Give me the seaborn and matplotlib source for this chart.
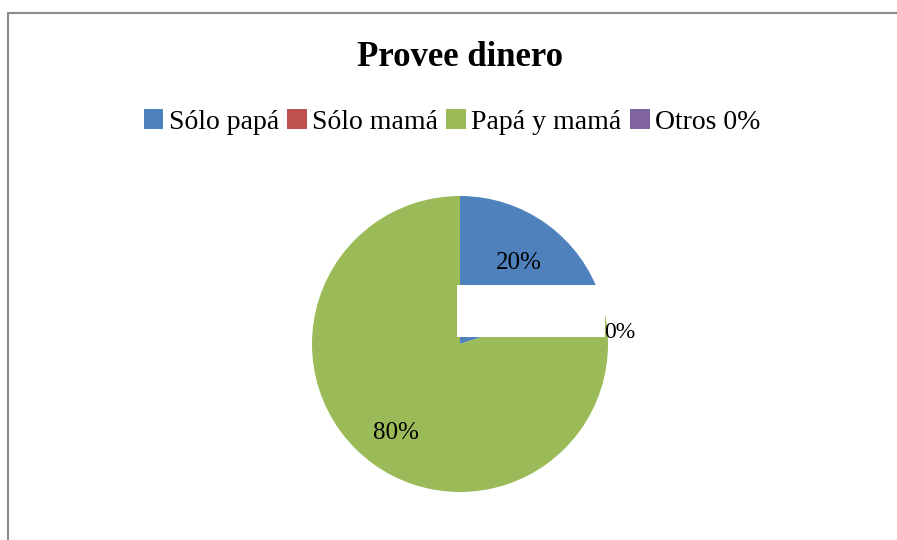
import matplotlib
matplotlib.use("Agg")
import matplotlib.pyplot as plt
import numpy as np
import seaborn as sns
from matplotlib.patches import Patch, Rectangle

# data
categories = ["Sólo papá", "Sólo mamá", "Papá y mamá", "Otros 0%"]
values = [20, 0, 80, 0]
colors = ["#4F81BD", "#C0504D", "#9BBB59", "#8064A2"]
title = "Provee dinero"

sns.set_theme(style="white")
plt.rcParams['font.family'] = ['Liberation Serif', 'DejaVu Serif']
plt.rcParams['text.color'] = 'black'

fig = plt.figure(figsize=(8.97, 5.40), dpi=100)
W, H = 897, 540

# outer chart border
fig.add_artist(Rectangle((8 / W, -0.1), 1.2, 1 - 13 / H + 0.1, transform=fig.transFigure,
                         fill=False, edgecolor="#8c8c8c", linewidth=1.5))

# pie axes: center (460, 344), radius 148 px
cx, cy, r = 460, 344, 148
ax = fig.add_axes([(cx - r) / W, (H - cy - r) / H, 2 * r / W, 2 * r / H])
palette = sns.color_palette(colors)
wedges, _ = ax.pie(values, colors=palette, startangle=90, counterclock=False,
                   radius=1, wedgeprops=dict(linewidth=0))
ax.set_xlim(-1, 1)
ax.set_ylim(-1, 1)
ax.axis("off")

# labels for non-zero slices
dists = {0: 0.68, 2: 0.74}
for i, w in enumerate(wedges):
    if values[i] == 0:
        continue
    ang = np.deg2rad((w.theta1 + w.theta2) / 2)
    d = dists.get(i, 0.7)
    ax.text(d * np.cos(ang), d * np.sin(ang), f"{values[i]}%", ha="center", va="center",
            fontsize=18, color="black")

# white label box artefact and the 0% label
ax.add_patch(Rectangle((-0.02, 0.047), 1.0, 0.353, facecolor="white", edgecolor="none", zorder=5))
ax.text(1.08, 0.08, f"{values[1]}%", ha="center", va="center", fontsize=17, color="black",
        zorder=6, clip_on=False)

fig.text(460 / W, 1 - 57 / H, title, ha="center", va="center", fontsize=25,
         fontweight="bold", color="black")

handles = [Patch(facecolor=c, edgecolor="none") for c in colors]
leg = fig.legend(handles, categories, loc="center", bbox_to_anchor=(452 / W, 1 - 122 / H), ncol=4,
                 frameon=False, fontsize=20, handlelength=0.7, handleheight=0.7,
                 handletextpad=0.2, columnspacing=0.3, borderaxespad=0)
for t in leg.get_texts():
    t.set_color("black")

fig.savefig("out.png", dpi=100, facecolor="white")
